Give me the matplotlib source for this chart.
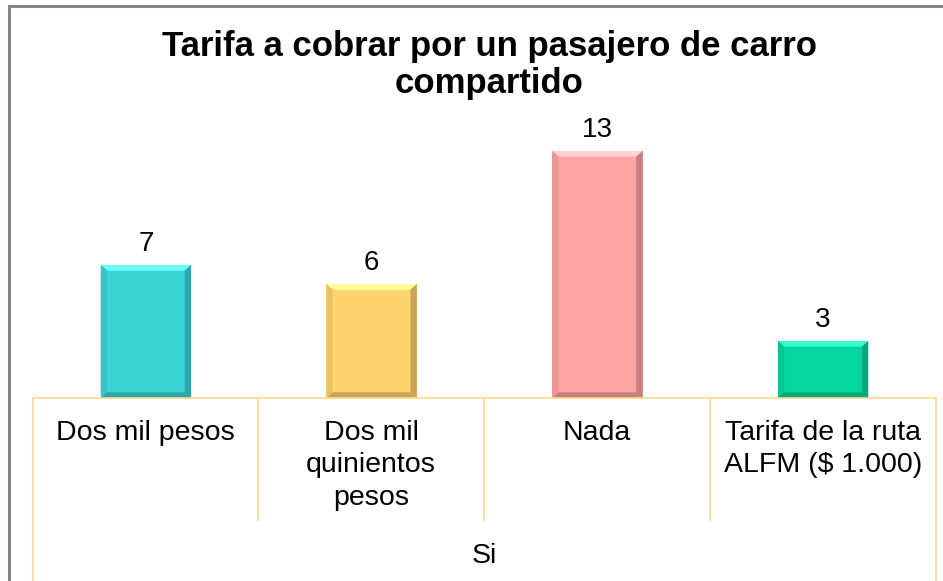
import matplotlib
matplotlib.use("Agg")
import matplotlib.pyplot as plt
from matplotlib.lines import Line2D
from matplotlib.patches import Polygon
from matplotlib.colors import to_rgb

plt.rcParams['font.family'] = ['Liberation Sans', 'DejaVu Sans']

# ---- data ----
title = "Tarifa a cobrar por un pasajero de carro\ncompartido"
categories = ["Dos mil pesos", "Dos mil\nquinientos\npesos", "Nada",
              "Tarifa de la ruta\nALFM ($ 1.000)"]
group_label = "Si"
values = [7, 6, 13, 3]
colors = ["#3AD6D6", "#FFD46E", "#FFA3A3", "#06D6A0"]

W, H = 943, 581
fig = plt.figure(figsize=(W / 100, H / 100), dpi=100)

def fx(px):
    return px / W

def fy(py):
    return 1 - py / H

# plot area: x 33..936, baseline at y=398, top at y=110
ax = fig.add_axes([fx(33), fy(398), fx(936) - fx(33), fy(110) - fy(398)])
bars = ax.bar(range(len(values)), values, width=0.4, color=colors,
              edgecolor="none", zorder=2)
ax.set_xlim(-0.5, len(values) - 0.5)
ax.set_ylim(0, 288 / 19)
ax.axis("off")

# bevel effect on each bar
for b, c in zip(bars, colors):
    x0, w, h = b.get_x(), b.get_width(), b.get_height()
    dx = w * 0.07
    dy = 0.3
    r, g, bb = to_rgb(c)
    light = (min(1, r + 0.18), min(1, g + 0.18), min(1, bb + 0.18))
    dark = (r * 0.78, g * 0.78, bb * 0.78)
    mid = (r * 0.92, g * 0.92, bb * 0.92)
    ax.add_patch(Polygon([(x0, h), (x0 + w, h), (x0 + w - dx, h - dy), (x0 + dx, h - dy)],
                         closed=True, facecolor=light, edgecolor="none", zorder=3))
    ax.add_patch(Polygon([(x0 + w, h), (x0 + w, 0), (x0 + w - dx, dy), (x0 + w - dx, h - dy)],
                         closed=True, facecolor=dark, edgecolor="none", zorder=3))
    ax.add_patch(Polygon([(x0, h), (x0, 0), (x0 + dx, dy), (x0 + dx, h - dy)],
                         closed=True, facecolor=mid, edgecolor="none", zorder=3))
    ax.add_patch(Polygon([(x0, 0), (x0 + w, 0), (x0 + w - dx, dy), (x0 + dx, dy)],
                         closed=True, facecolor=dark, edgecolor="none", zorder=3))
    ax.text(b.get_x() + w / 2, h + 0.4, str(int(h)), ha="center", va="bottom",
            fontsize=20, color="black")

# title
fig.text(fx(489), fy(65), title, ha="center", va="center", fontsize=25,
         fontweight="bold", linespacing=1.15)

# category table under the bars
line_c = "#FFD98C"
cell_edges = [33, 258, 484, 710, 936]
fig.add_artist(Line2D([fx(33), fx(936)], [fy(398), fy(398)], color=line_c, lw=1.2))
for i, xe in enumerate(cell_edges):
    bottom = 581 if i in (0, len(cell_edges) - 1) else 520
    fig.add_artist(Line2D([fx(xe), fx(xe)], [fy(398), fy(bottom)], color=line_c, lw=1.2))
for i, lab in enumerate(categories):
    xc = (cell_edges[i] + cell_edges[i + 1]) / 2
    fig.text(fx(xc), fy(420), lab, ha="center", va="top", fontsize=20.5,
             linespacing=1.32)
fig.text(fx(484), fy(556), group_label, ha="center", va="center", fontsize=20.5)

# outer chart border (left and top visible)
border_c = "#868686"
fig.add_artist(Line2D([fx(9), fx(9)], [fy(6), fy(581)], color=border_c, lw=2.2))
fig.add_artist(Line2D([fx(9), fx(943)], [fy(6), fy(6)], color=border_c, lw=2.2))

fig.savefig("out.png", dpi=100)
